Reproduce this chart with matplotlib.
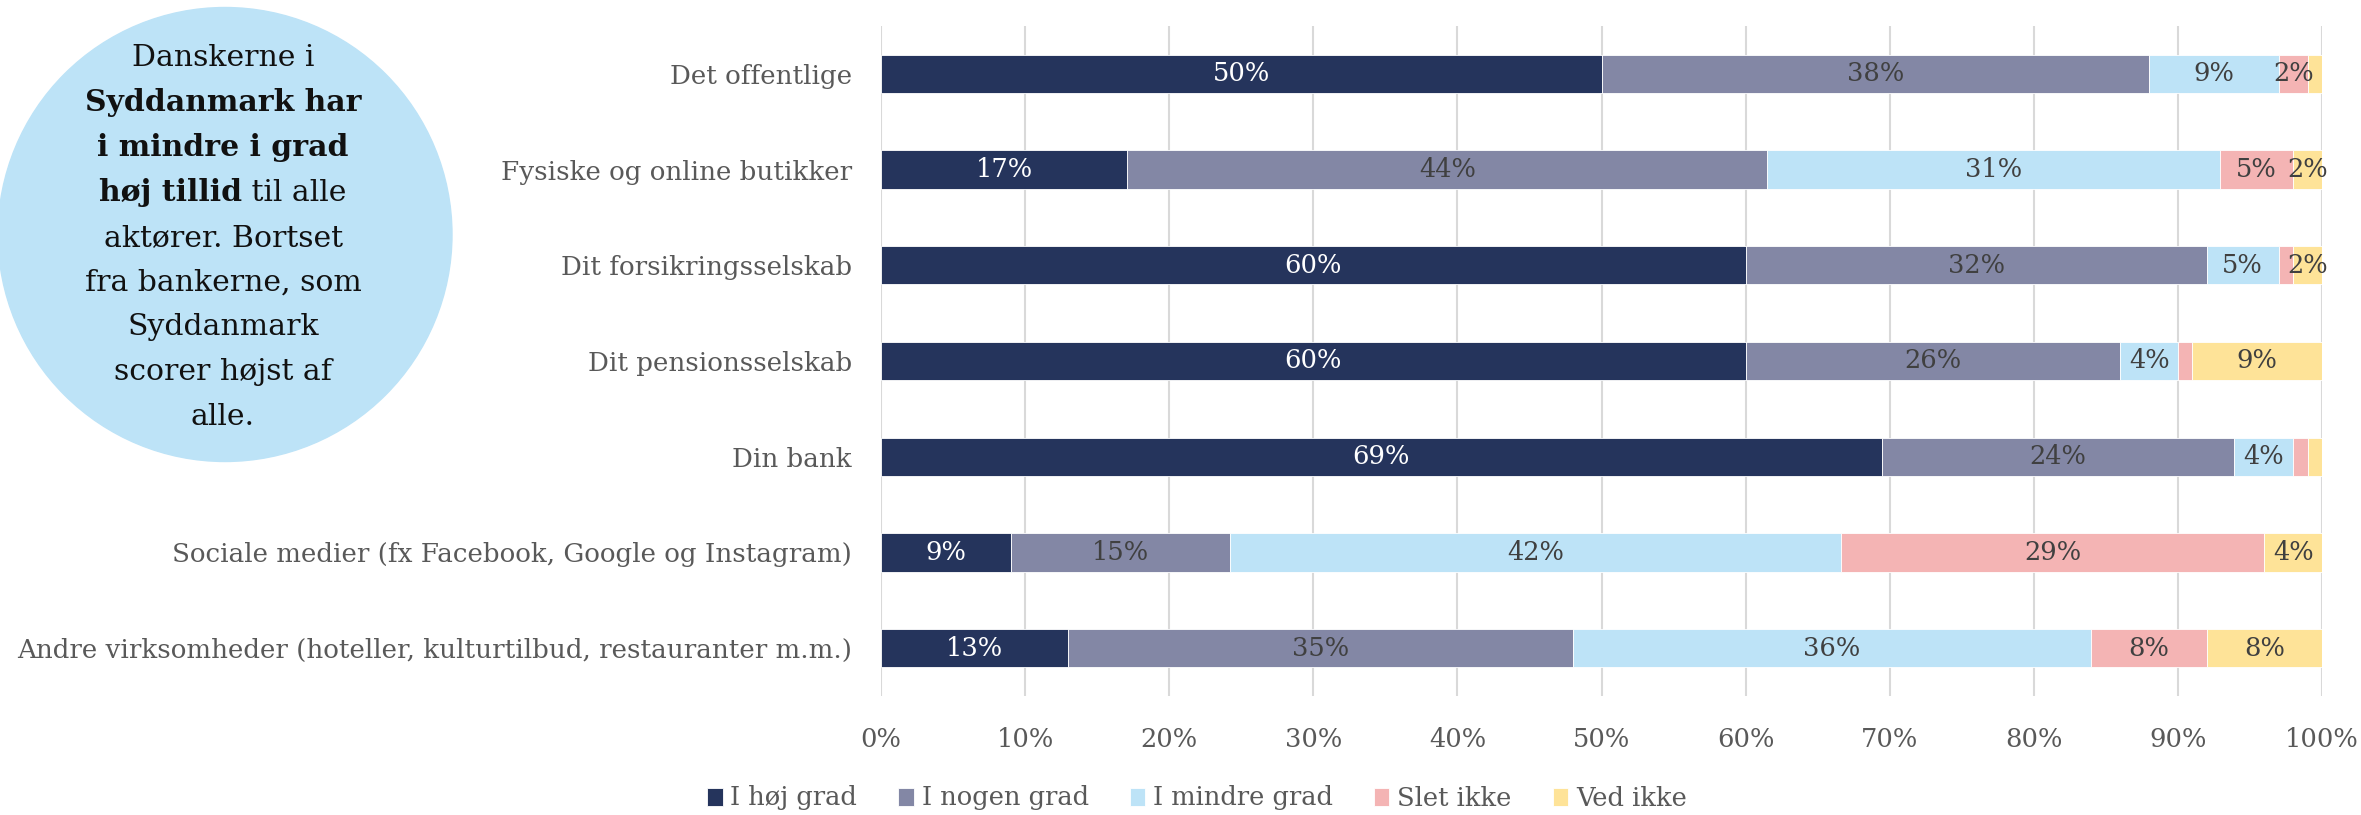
import matplotlib
matplotlib.use("Agg")
import matplotlib.pyplot as plt
import numpy as np
from matplotlib.patches import Ellipse

plt.rcParams['font.family'] = ['DejaVu Serif']

categories = [
    "Det offentlige",
    "Fysiske og online butikker",
    "Dit forsikringsselskab",
    "Dit pensionsselskab",
    "Din bank",
    "Sociale medier (fx Facebook, Google og Instagram)",
    "Andre virksomheder (hoteller, kulturtilbud, restauranter m.m.)",
]
series_names = ["I høj grad", "I nogen grad", "I mindre grad", "Slet ikke", "Ved ikke"]
hoej_grad = [50, 17.1, 60, 60, 69.45, 9.0, 13]
nogen_grad = [38, 44.4, 32, 26, 24.45, 15.2, 35]
mindre_grad = [9, 31.4, 5, 4, 4.1, 42.4, 36]
slet_ikke = [2, 5.1, 1, 1, 1.0, 29.4, 8]
ved_ikke = [1, 2.0, 2, 9, 1.0, 4.0, 8]
xticks = [0, 10, 20, 30, 40, 50, 60, 70, 80, 90, 100]

colors = ["#25345c", "#8387a5", "#bde3f7", "#f4b4b4", "#fee398"]
label_colors = ["white", "#404040", "#404040", "#404040", "#404040"]

W, H = 2361, 815
fig = plt.figure(figsize=(W / 100, H / 100), dpi=100)
ax = fig.add_axes([881 / W, 1 - 696 / H, (2322 - 881) / W, (696 - 26) / H])

series = [hoej_grad, nogen_grad, mindre_grad, slet_ikke, ved_ikke]
y = np.arange(len(categories))
left = np.zeros(len(categories))
for vals, name, c, lc in zip(series, series_names, colors, label_colors):
    vals = np.array(vals, dtype=float)
    bars = ax.barh(y, vals, left=left, height=0.4, color=c, label=name,
                   edgecolor="white", linewidth=0.6, zorder=3)
    for rect, v in zip(bars, vals):
        if v >= 1.5:
            ax.text(rect.get_x() + rect.get_width() / 2, rect.get_y() + rect.get_height() / 2,
                    f"{v:.0f}%", ha="center", va="center", color=lc, fontsize=18.5, zorder=4)
    left += vals

ax.set_xlim(0, 100)
ax.set_ylim(len(categories) - 0.5, -0.5)
ax.set_yticks(y)
ax.set_yticklabels(categories, fontsize=18.8, color="#595959")
ax.set_xticks(xticks)
ax.set_xticklabels([f"{t}%" for t in xticks], fontsize=18.5, color="#595959")
ax.tick_params(axis="y", length=0, pad=21)
ax.tick_params(axis="x", length=0, pad=22)
ax.grid(axis="x", color="#d9d9d9", linewidth=1.5, zorder=0)
for s in ax.spines.values():
    s.set_visible(False)

leg = fig.legend(loc="center", bbox_to_anchor=(1197 / W, 1 - 798 / H), ncol=5, frameon=False,
                 fontsize=18.5, handlelength=0.6, handleheight=0.7, handletextpad=0.3,
                 columnspacing=1.6, labelcolor="#595959")

# Circle with text
circ = Ellipse((225 / W, 1 - 234.5 / H), 2 * 227 / W, 2 * 227 / H,
               transform=fig.transFigure, color="#bde3f7", zorder=0)
fig.add_artist(circ)

lines = [
    [("Danskerne i", "normal")],
    [("Syddanmark har", "bold")],
    [("i mindre i grad", "bold")],
    [("høj tillid", "bold"), (" til alle", "normal")],
    [("aktører. Bortset", "normal")],
    [("fra bankerne, som", "normal")],
    [("Syddanmark", "normal")],
    [("scorer højst af", "normal")],
    [("alle.", "normal")],
]
cx = 223
y0, dy = 58, 44.9
fig.canvas.draw()
renderer = fig.canvas.get_renderer()
for i, parts in enumerate(lines):
    yy = 1 - (y0 + i * dy) / H
    texts = []
    for s, w in parts:
        t = fig.text(0, yy, s, fontsize=21.5, fontweight=w, color="#111111",
                     ha="left", va="center")
        texts.append(t)
    widths = [t.get_window_extent(renderer).width for t in texts]
    total = sum(widths)
    x = cx - total / 2
    for t, wdt in zip(texts, widths):
        t.set_x(x / W)
        x += wdt

fig.savefig("out.png", dpi=100)
